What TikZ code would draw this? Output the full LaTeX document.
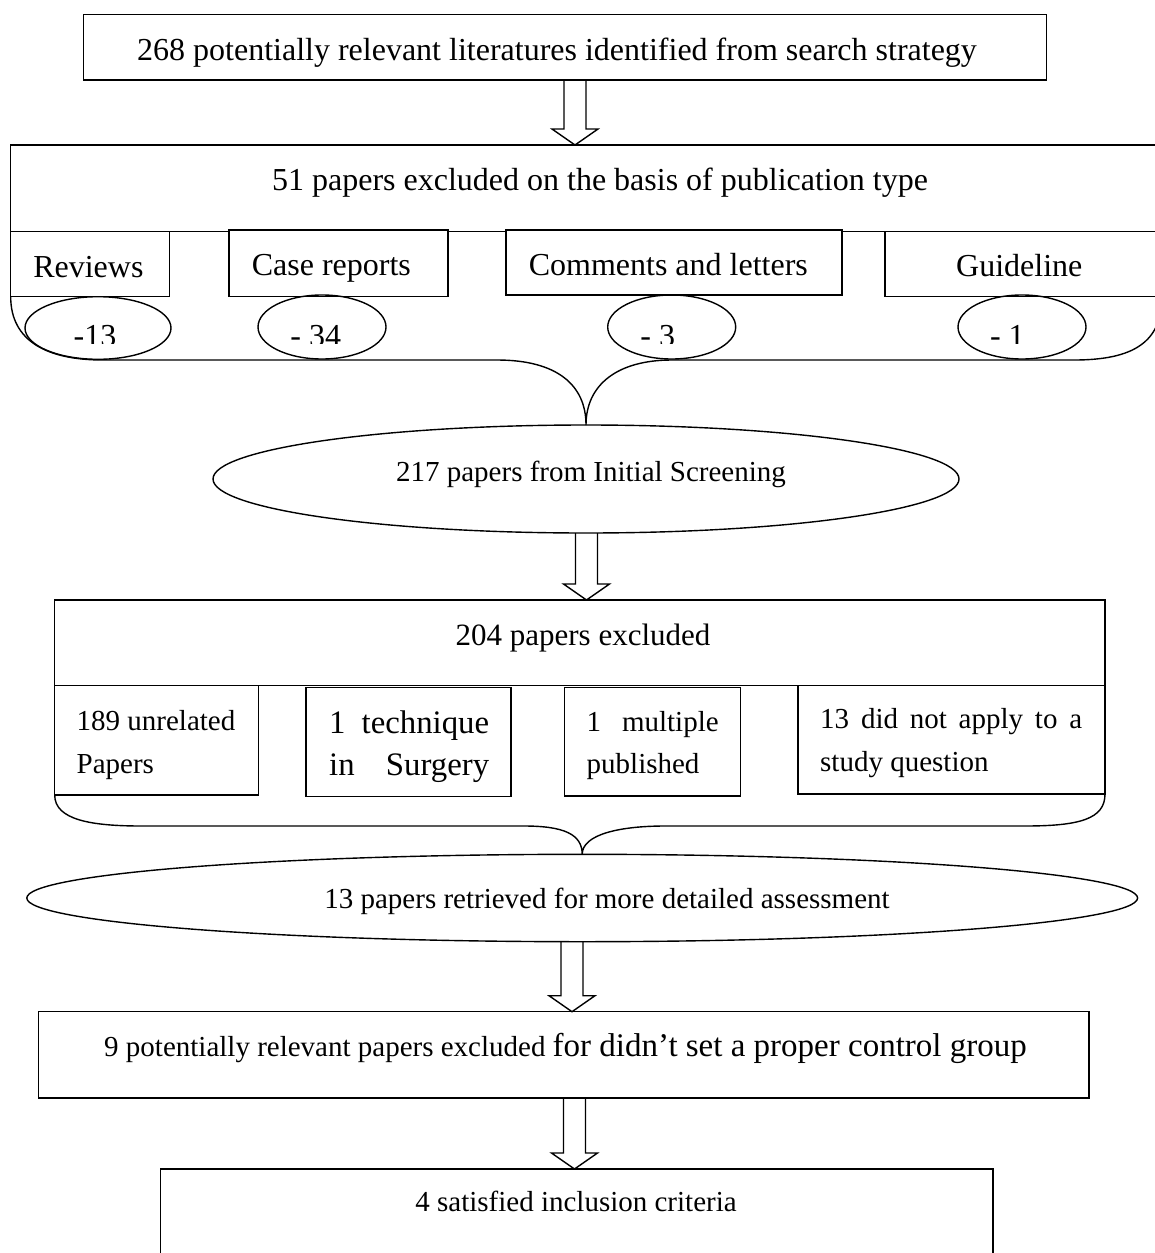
\documentclass[tikz,border=0pt]{standalone}
\usepackage{fontspec}
\setmainfont{Liberation Serif}
\usetikzlibrary{shapes.geometric,calc}
\tikzset{
  box/.style={draw, line width=1.4pt, rectangle, inner sep=0pt, outer sep=0pt, anchor=north west, fill=white},
  oval/.style={draw, line width=1.4pt, ellipse, inner sep=0pt, outer sep=0pt},
  conn/.style={draw, line width=1.4pt},
  big/.style={font=\fontsize{32}{38}\selectfont, inner sep=0pt, anchor=base},
  mid/.style={font=\fontsize{29}{35}\selectfont, inner sep=0pt, anchor=base},
}
\newcommand\hollowarrow[2]{\draw[conn, line join=miter] ($(#1)+(-11,0)$) -- ($(#2)+(-11,-16)$) -- ($(#2)+(-23,-16)$) -- (#2) -- ($(#2)+(23,-16)$) -- ($(#2)+(11,-16)$) -- ($(#1)+(11,0)$);}
\begin{document}
\begin{tikzpicture}[x=1pt,y=-1pt]
\useasboundingbox (0,0) rectangle (1154,1253);
% ---- top box
\node[box, minimum width=963.4pt, minimum height=65.3pt] (top) at (83.3,14.7) {};
\node[big] (ttop) at (557,60.7) {268 potentially relevant literatures identified from search strategy};
% ---- box 2
\node[box, minimum width=1151.3pt, minimum height=86.7pt] (hdr2) at (10.7,145) {};
\node[big] (t51) at (600,190) {51 papers excluded on the basis of publication type};
\node[box, minimum width=158.8pt, minimum height=65pt] (rev) at (10.7,231.7) {};
\node[big] (trev) at (88.4,277) {Reviews};
\node[box, minimum width=218.9pt, minimum height=66.7pt] (case) at (228.9,230) {};
\node[big] (tcase) at (331.4,275) {Case reports};
\node[box, minimum width=335.8pt, minimum height=65pt] (comm) at (506,230) {};
\node[big] (tcomm) at (668.3,275) {Comments and letters};
\node[box, minimum width=277pt, minimum height=65pt] (guide) at (885,231.7) {};
\node[big] (tguide) at (1019.3,276.7) {Guideline};
\node[oval, minimum width=146pt, minimum height=62.6pt] (e1) at (98,328) {};
\node[oval, minimum width=128pt, minimum height=64pt] (e2) at (322,327) {};
\node[oval, minimum width=128pt, minimum height=64pt] (e3) at (671.7,327) {};
\node[oval, minimum width=128pt, minimum height=64pt] (e4) at (1022,327) {};
\begin{scope}
\clip (0,290) rectangle (1154,343);
\node[big] (l1) at (95,346) {-13};
\node[big] (l2) at (315.7,346) {- 34};
\node[big] (l3) at (657.7,346) {- 3};
\node[big] (l4) at (1007.4,346) {- 1};
\end{scope}
% ---- ellipse 217
\node[oval, minimum width=746pt, minimum height=108pt] (e217) at (586,479) {};
\node[mid] (t217) at (591,481.7) {217 papers from Initial Screening};
\draw[conn] (rev.south west) .. controls +(0,45) and +(-55,0) .. (103,360) -- (497,360)
  .. controls +(60,0) and +(0,-40) .. (e217.north)
  .. controls +(0,-40) and +(-55,0) .. (672,360) -- (1074,360)
  .. controls +(60,0) and +(0,45) .. (guide.south east);
% ---- box 3
\node[box, minimum width=1050.3pt, minimum height=85.7pt] (hdr3) at (54.7,600) {};
\node[font=\fontsize{31}{37}\selectfont, inner sep=0pt, anchor=base] (t204) at (583,645) {204 papers excluded};
\node[box, minimum width=204pt, minimum height=109.3pt] (u189) at (54.7,685.7) {};
\node[box, minimum width=205pt, minimum height=109pt] (tech) at (306,687.7) {};
\node[box, minimum width=175.7pt, minimum height=108.3pt] (mult) at (564.7,687.7) {};
\node[box, minimum width=307.2pt, minimum height=108.3pt] (q13) at (797.8,685.7) {};
\node[mid, anchor=base west] (t189a) at (76.5,730) {189 unrelated};
\node[mid, anchor=base west] (t189b) at (76.5,773) {Papers};
\node[font=\fontsize{32.8}{38}\selectfont, inner sep=0pt, anchor=base west] (ttecha) at (329,733) {\makebox[160pt][s]{1 technique}};
\node[font=\fontsize{32.8}{38}\selectfont, inner sep=0pt, anchor=base west] (ttechb) at (329,775) {\makebox[160pt][s]{in Surgery}};
\node[mid, anchor=base west] (tmulta) at (586.5,731.7) {\makebox[132pt][s]{1 multiple}};
\node[mid, anchor=base west] (tmultb) at (586.5,773.3) {published};
\node[mid, anchor=base west] (tq13a) at (820,728.3) {\makebox[262pt][s]{13 did not apply to a}};
\node[mid, anchor=base west] (tq13b) at (820,771.7) {study question};
% ---- ellipse 13
\node[oval, minimum width=1110.8pt, minimum height=87.4pt] (e13) at (582.2,898) {};
\node[mid] (t13) at (607,908.3) {13 papers retrieved for more detailed assessment};
\draw[conn] (u189.south west) .. controls +(0,25) and +(-50,0) .. (141.6,826) -- (524,826)
  .. controls +(40,0) and +(0,-20) .. (e13.north)
  .. controls +(0,-20) and +(-45,0) .. (665,826) -- (1024.7,826)
  .. controls +(55,0) and +(0,25) .. (q13.south east);
% ---- box 4
\node[box, minimum width=1050.3pt, minimum height=86.3pt] (b4) at (38.7,1011.7) {};
\node[inner sep=0pt, anchor=base west] (t9) at (104,1056.7) {\fontsize{29}{35}\selectfont 9 potentially relevant papers excluded \fontsize{33}{40}\selectfont for didn’t set a proper control group};
% ---- box 5
\node[box, minimum width=832.3pt, minimum height=100pt] (b5) at (160.7,1169) {};
\node[mid] (t4) at (576,1211.7) {4 satisfied inclusion criteria};
% ---- arrows
\coordinate (a1s) at (575,80);     \coordinate (a1e) at (575,145);
\coordinate (a2s) at (586.5,533);  \coordinate (a2e) at (586.5,600);
\coordinate (a3s) at (572,941.7);  \coordinate (a3e) at (572,1011.7);
\coordinate (a4s) at (574.5,1098); \coordinate (a4e) at (574.5,1169);
\hollowarrow{a1s}{a1e}
\hollowarrow{a2s}{a2e}
\hollowarrow{a3s}{a3e}
\hollowarrow{a4s}{a4e}
\end{tikzpicture}
\end{document}
